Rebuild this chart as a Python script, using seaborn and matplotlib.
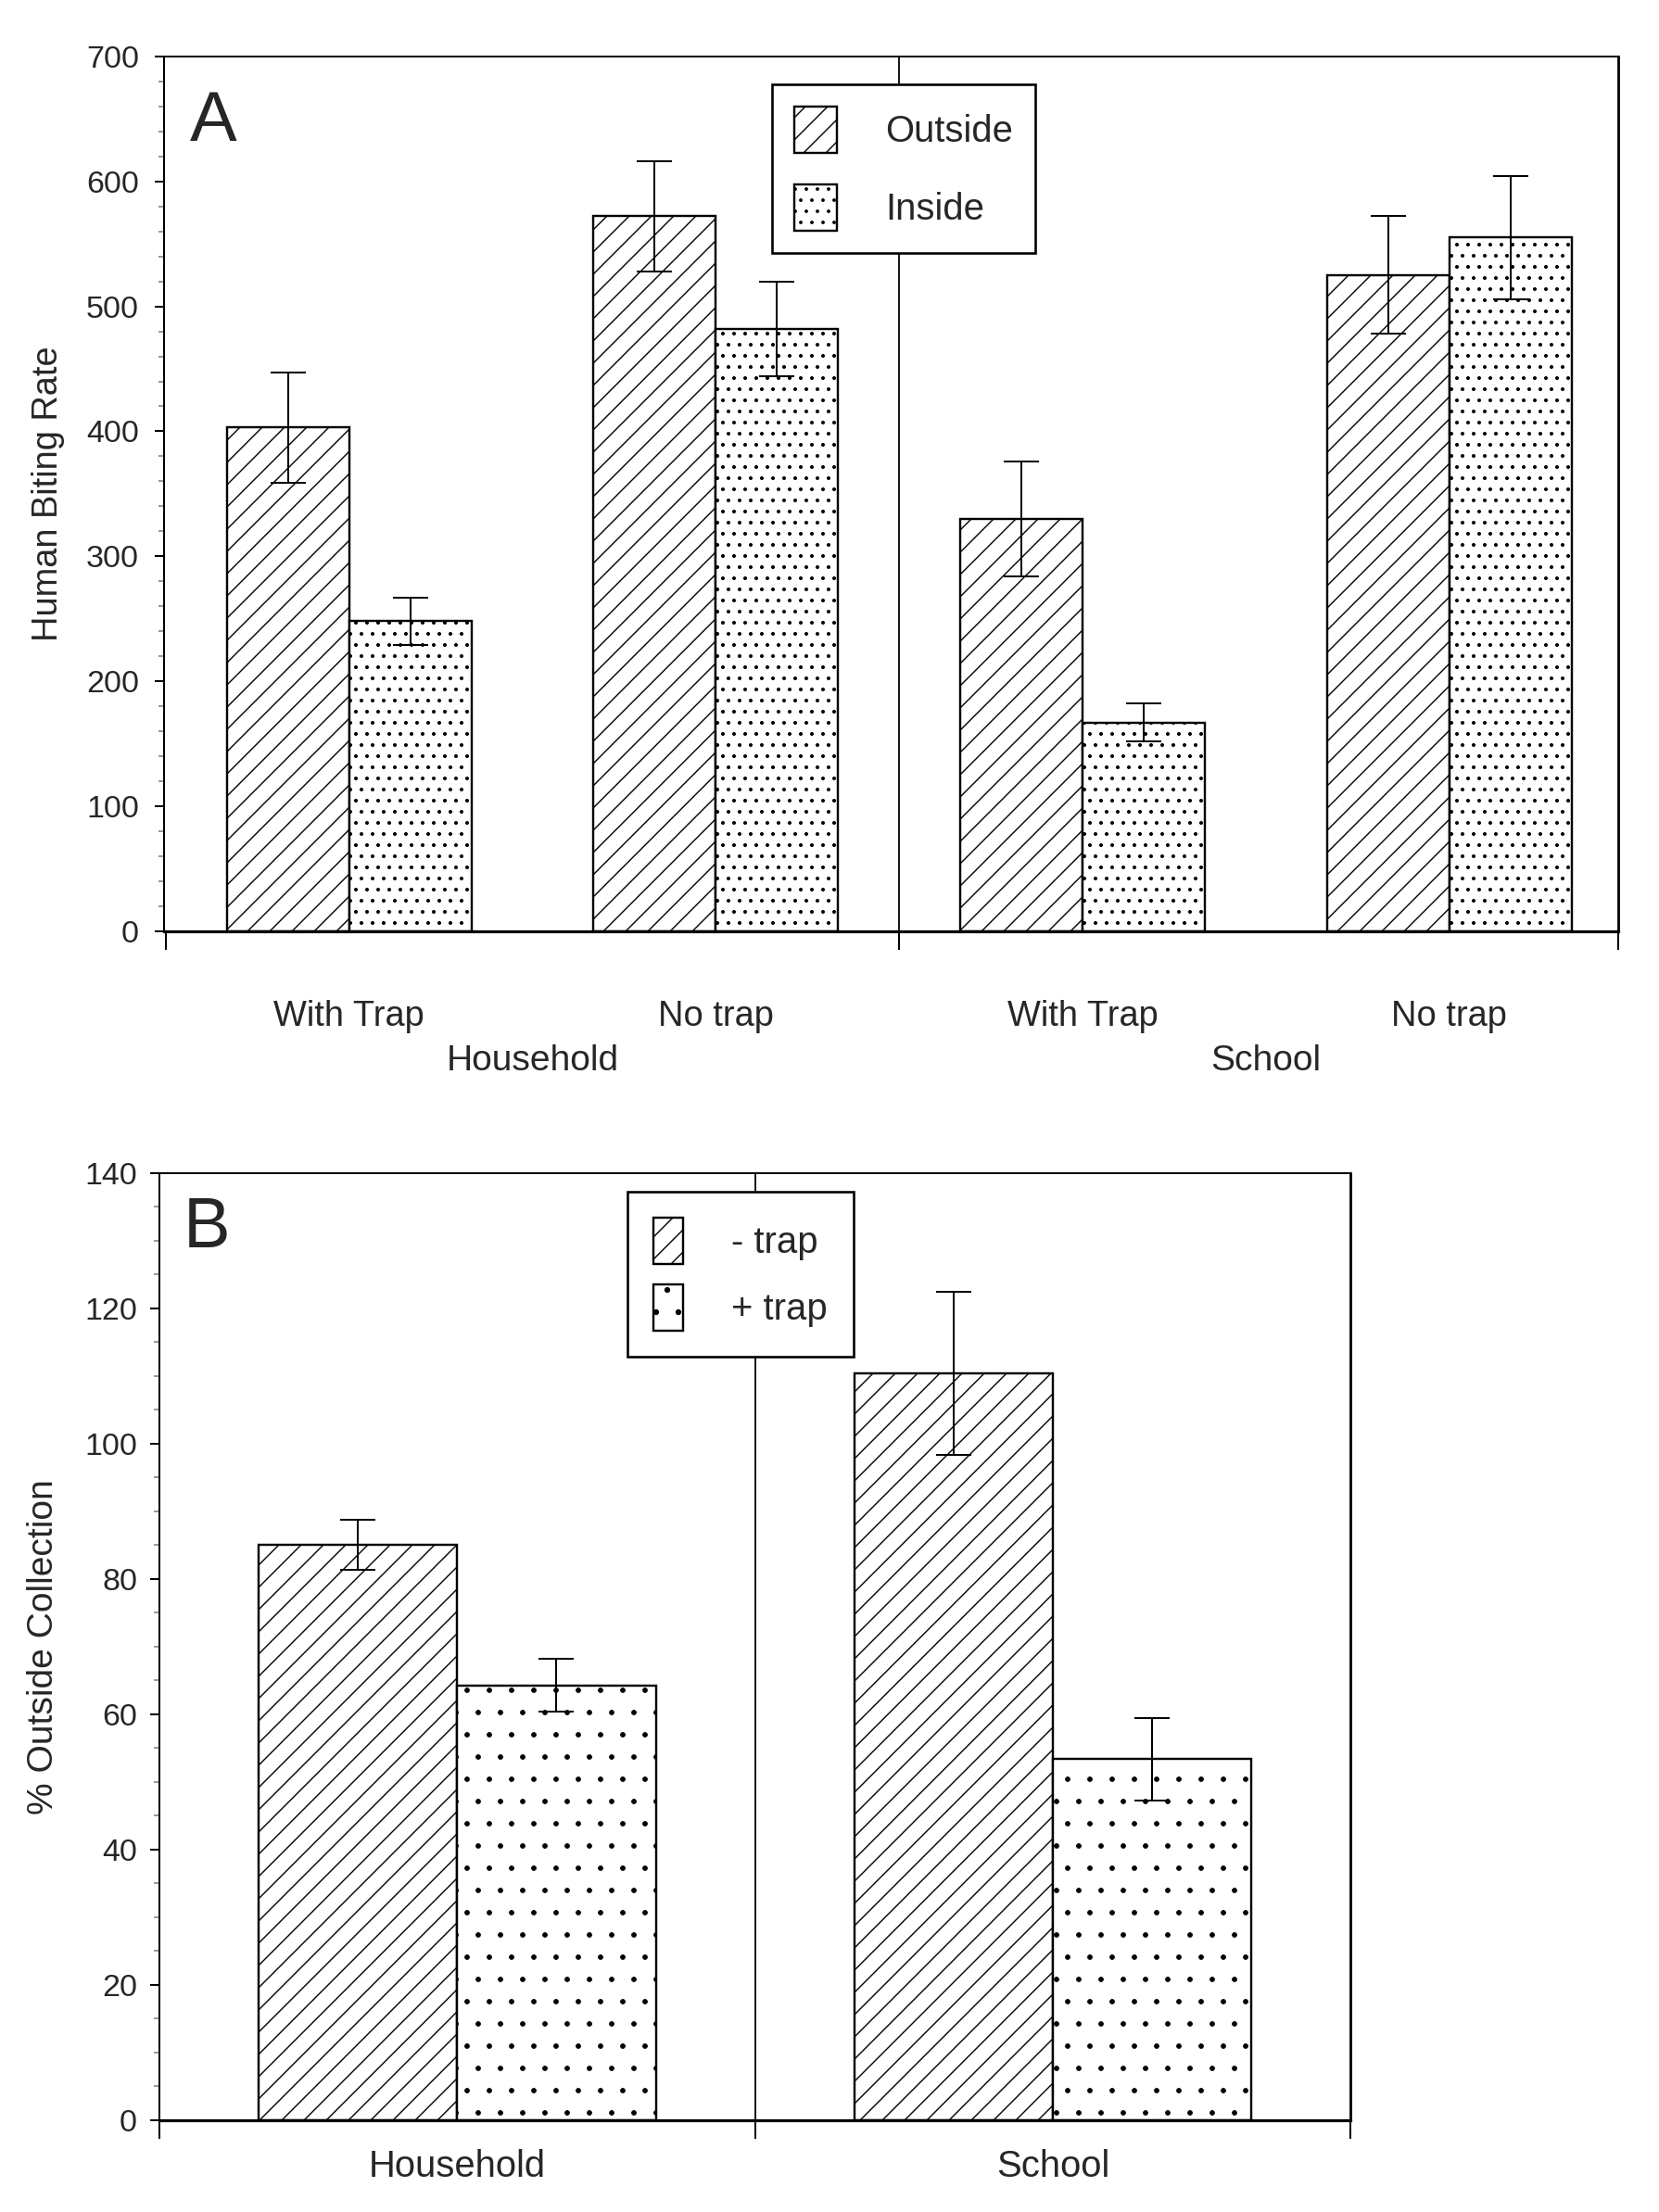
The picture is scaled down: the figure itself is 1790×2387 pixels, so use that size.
import numpy as np
import pandas as pd
import matplotlib
matplotlib.use("Agg")
import matplotlib.pyplot as plt
import seaborn as sns
from matplotlib.patches import Patch
from matplotlib.ticker import MultipleLocator

# ---------------- data ----------------
# Panel A
a_sites = ["Household", "Household", "School", "School"]
a_conditions = ["With Trap", "No trap", "With Trap", "No trap"]
a_series = ["Outside", "Inside"]
a_outside = [403, 572, 330, 525]
a_outside_err = [44, 44, 46, 47]
a_inside = [248, 482, 167, 555]
a_inside_err = [19, 38, 15, 49]
a_groups = ["Household", "School"]
a_yticks = [0, 100, 200, 300, 400, 500, 600, 700]

# Panel B
b_sites = ["Household", "School"]
b_series = ["- trap", "+ trap"]
b_minus = [85.0, 110.4]
b_minus_err = [3.7, 12.0]
b_plus = [64.3, 53.4]
b_plus_err = [3.9, 6.1]
b_yticks = [0, 20, 40, 60, 80, 100, 120, 140]

# ---------------- style ----------------
sns.set_style("white")
plt.rcParams["font.family"] = ["Liberation Sans", "DejaVu Sans"]
plt.rcParams["hatch.linewidth"] = 0.7
plt.rcParams["hatch.color"] = "black"

DPI = 144
fig = plt.figure(figsize=(1790 / DPI, 2387 / DPI), dpi=DPI)
fig.patch.set_facecolor("white")

axA = fig.add_axes([0.0989, 0.5790, 0.8765, 0.3955])
axB = fig.add_axes([0.0961, 0.04148, 0.7179, 0.4282])


def style_axes(ax, pad):
    for s in ax.spines.values():
        s.set_visible(True)
        s.set_color("black")
        s.set_linewidth(1.0)
    ax.spines["bottom"].set_linewidth(1.6)
    ax.spines["right"].set_linewidth(1.4)
    ax.tick_params(axis="y", which="major", direction="out", length=5, width=1,
                   color="black", pad=pad, labelsize=17, left=True)
    ax.tick_params(axis="y", which="minor", direction="out", length=3, width=0.8,
                   color="0.5", left=True)


def hatch_bars(ax, hatches, errs, hatch_lw):
    for cont, h, err, lw in zip(ax.containers, hatches, errs, hatch_lw):
        xs, ys = [], []
        for p in cont.patches:
            p.set_hatch(h)
            if hasattr(p, "set_hatch_linewidth"):
                p.set_hatch_linewidth(lw)
            p.set_facecolor("white")
            p.set_edgecolor("black")
            xs.append(p.get_x() + p.get_width() / 2)
            ys.append(p.get_height())
        ax.errorbar(xs, ys, yerr=err, fmt="none", ecolor="black", elinewidth=1.0,
                    capsize=9.5, capthick=1.0, zorder=5)


def legend_handles(hatches, hatch_lw):
    hs = []
    for h, lw in zip(hatches, hatch_lw):
        p = Patch(facecolor="white", edgecolor="black", hatch=h, lw=1.2)
        if hasattr(p, "set_hatch_linewidth"):
            p.set_hatch_linewidth(lw)
        hs.append(p)
    return hs


# ---------------- Panel A ----------------
a_keys = [f"{s}|{c}" for s, c in zip(a_sites, a_conditions)]
dfA = pd.DataFrame({
    "key": a_keys * 2,
    "series": ["Outside"] * 4 + ["Inside"] * 4,
    "value": a_outside + a_inside,
})
sns.barplot(data=dfA, x="key", y="value", hue="series", order=a_keys,
            hue_order=a_series, palette={"Outside": "white", "Inside": "white"},
            edgecolor="black", linewidth=1.2, width=0.667, errorbar=None,
            legend=False, saturation=1, ax=axA)
hatchesA = ["//", ".."]
hlwA = [0.7, 0.8]
hatch_bars(axA, hatchesA, [a_outside_err, a_inside_err], hlwA)

axA.set_xlim(-0.504, 3.46)
axA.set_ylim(0, 700)
axA.axvline(1.5, color="black", lw=0.9, zorder=1)
axA.set_yticks(a_yticks)
axA.yaxis.set_minor_locator(MultipleLocator(20))
axA.set_xticks([-0.5, 1.5, 3.46])
axA.set_xticklabels([])
axA.set_xticks([0, 1, 2, 3], minor=True)
axA.set_xticklabels(a_conditions, minor=True)
axA.tick_params(axis="x", which="major", direction="out", length=10, width=1,
                color="black", bottom=True)
axA.tick_params(axis="x", which="minor", length=0, pad=37, labelsize=19)
axA.set_xlabel("")
axA.set_ylabel("Human Biting Rate", fontsize=19)
axA.yaxis.set_label_coords(-0.068, 0.5)
style_axes(axA, 8.5)
for i, g in enumerate(a_groups):
    axA.annotate(g, xy=(2 * i + 0.5, 0), xycoords=("data", "axes fraction"),
                 xytext=(0, -70), textcoords="offset points",
                 ha="center", va="center", fontsize=19.5)
axA.text(0.018, 0.962, "A", transform=axA.transAxes, fontsize=38,
         ha="left", va="top")
legA = axA.legend(legend_handles(hatchesA, hlwA), a_series, loc="upper left",
                  bbox_to_anchor=(0.418, 0.968), fontsize=20,
                  handlelength=1.15, handleheight=1.55, labelspacing=0.85,
                  handletextpad=1.3, borderpad=0.6, borderaxespad=0,
                  fancybox=False, frameon=True, edgecolor="black",
                  framealpha=1)
legA.get_frame().set_linewidth(1.3)
legA.set_zorder(10)

# ---------------- Panel B ----------------
dfB = pd.DataFrame({
    "site": b_sites * 2,
    "series": ["- trap"] * 2 + ["+ trap"] * 2,
    "value": b_minus + b_plus,
})
sns.barplot(data=dfB, x="site", y="value", hue="series", order=b_sites,
            hue_order=b_series, palette={"- trap": "white", "+ trap": "white"},
            edgecolor="black", linewidth=1.2, width=0.667, errorbar=None,
            legend=False, saturation=1, ax=axB)
hatchesB = ["//", "."]
hlwB = [0.7, 0.45]
hatch_bars(axB, hatchesB, [b_minus_err, b_plus_err], hlwB)

axB.set_xlim(-0.5, 1.5)
axB.set_ylim(0, 140)
axB.axvline(0.5, color="black", lw=0.9, zorder=1)
axB.set_yticks(b_yticks)
axB.yaxis.set_minor_locator(MultipleLocator(5))
axB.set_xticks([-0.5, 0.5, 1.5])
axB.set_xticklabels([])
axB.set_xticks([0, 1], minor=True)
axB.set_xticklabels(b_sites, minor=True)
axB.tick_params(axis="x", which="major", direction="out", length=10, width=1,
                color="black", bottom=True)
axB.tick_params(axis="x", which="minor", length=0, pad=15.5, labelsize=20)
axB.set_xlabel("")
axB.set_ylabel("% Outside Collection", fontsize=19.5)
axB.yaxis.set_label_coords(-0.083, 0.5)
style_axes(axB, 7)
axB.text(0.02, 0.975, "B", transform=axB.transAxes, fontsize=38,
         ha="left", va="top")
legB = axB.legend(legend_handles(hatchesB, hlwB), b_series, loc="upper left",
                  bbox_to_anchor=(0.393, 0.9806), fontsize=20,
                  handlelength=0.8, handleheight=1.55, labelspacing=0.55,
                  handletextpad=1.3, borderpad=0.7, borderaxespad=0,
                  fancybox=False, frameon=True, edgecolor="black",
                  framealpha=1)
legB.get_frame().set_linewidth(1.3)
legB.set_zorder(10)

fig.savefig("out.png", dpi=DPI, facecolor="white")
